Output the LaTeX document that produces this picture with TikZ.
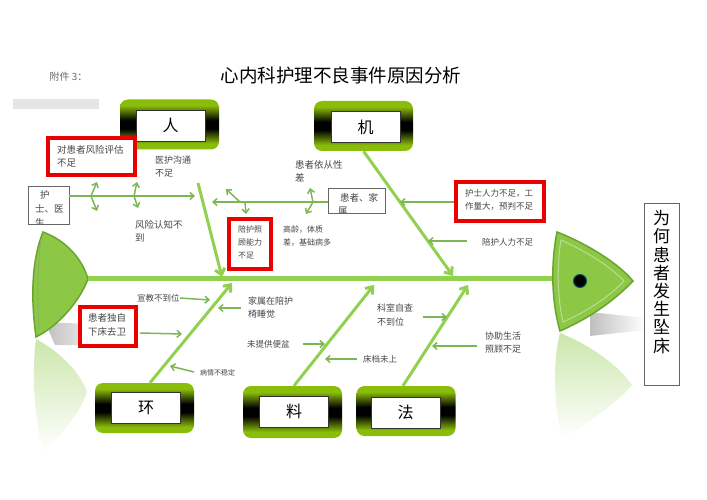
\documentclass[tikz,border=0pt]{standalone}
\usepackage{fontspec}
\setmainfont{Noto Sans CJK SC}
\usetikzlibrary{arrows.meta}
\definecolor{bone}{RGB}{146,208,80}
\definecolor{subg}{RGB}{125,182,85}
\definecolor{fish}{RGB}{140,200,70}
\definecolor{fishd}{RGB}{105,165,45}
\definecolor{catg}{RGB}{138,188,10}
\definecolor{redb}{RGB}{235,0,0}
\definecolor{txt}{RGB}{70,70,70}
\pgfdeclareverticalshading{catshade}{100bp}{color(0bp)=(catg); color(31bp)=(catg); color(46bp)=(black); color(54bp)=(black); color(69bp)=(catg); color(100bp)=(catg)}
\newcommand{\fs}[2]{\fontsize{#1}{#2}\selectfont}
\begin{document}
\begin{tikzpicture}[x=1pt,y=-1pt,
  catouter/.style={rounded corners=8pt, shading=catshade, minimum width=99pt, minimum height=50pt, inner sep=0pt},
  catinner/.style={draw=black!80, line width=0.8pt, fill=white, minimum width=69pt, minimum height=31pt, inner sep=0pt, font=\fs{16}{18}},
  bonearrow/.style={draw=bone, line width=3pt, -{Straight Barb[length=6pt,width=10pt]}},
  subarrow/.style={draw=subg, line width=1.5pt, -{Straight Barb[length=4pt,width=7pt]}},
  redbox/.style={draw=redb, line width=4pt, fill=white, inner sep=0pt},
  lbl/.style={text=txt, inner sep=0pt, anchor=north west, align=left},
  plainbox/.style={draw=black!60, line width=0.8pt, fill=white, inner sep=0pt}
]
\useasboundingbox (0,0) rectangle (707,500);

% header
\node[anchor=west, text=black!60, font=\fs{10}{12}] (fj) at (46,77) {附件 3：};
\node[font=\fs{18.5}{20}] (title) at (341,75) {心内科护理不良事件原因分析};
\fill[black!10] (13,99) rectangle (99,109);

% shadows and reflections
\shade[left color=black!25, right color=white] (45,322) -- (110,325) -- (110,345) -- (55,345) -- cycle;
\shade[top color=fish!45, bottom color=white] (36,339) .. controls (60,352) and (80,372) .. (87,392) .. controls (80,412) and (65,432) .. (43,452) .. controls (33,410) and (32,370) .. cycle;
\shade[left color=black!25, right color=white] (590,312) -- (645,318) -- (645,330) -- (590,336) -- cycle;
\shade[top color=fish!45, bottom color=white] (560,333) .. controls (590,345) and (618,365) .. (632,385) .. controls (615,405) and (590,420) .. (562,440) .. controls (553,400) and (553,360) .. cycle;

% tail
\filldraw[fill=fish, draw=fishd, line width=1.5pt] (43,232) .. controls (65,240) and (82,258) .. (88,279) .. controls (80,300) and (60,325) .. (36,337) .. controls (31,300) and (31,262) .. cycle;
\draw[fishd!80, line width=1pt] (41,240) .. controls (37,270) and (37,300) .. (39,330);
\coordinate (tail) at (88,278);
% head
\coordinate (headl) at (556,278);
\draw[bone, line width=5pt] (tail) -- (headl);
\filldraw[fill=fish, draw=fishd, line width=1.5pt] (557,232) .. controls (590,245) and (620,265) .. (633,281) .. controls (615,300) and (590,318) .. (560,331) .. controls (551,300) and (551,262) .. cycle;
\draw[fish!60!white, line width=1pt] (561,240) .. controls (588,252) and (612,268) .. (624,281) .. controls (610,296) and (588,311) .. (563,322) .. controls (557,296) and (557,264) .. cycle;
\filldraw[fill=black, draw=teal!70!black, line width=1pt] (580,281) circle (6.5pt);

% result box
\node[plainbox, minimum width=35pt, minimum height=182pt] (res) at (661.5,294) {};
\node[align=center, font=\fs{17}{18.2}] (restxt) at (661.5,282) {为\\何\\患\\者\\发\\生\\坠\\床};

% category boxes
\node[catouter] (ren) at (169.5,124.5) {};
\node[catinner] (renin) at (170.5,125.5) {人};
\node[catouter] (ji) at (363.5,126) {};
\node[catinner] (jiin) at (365.5,127) {机};
\node[catouter] (huan) at (144.5,408) {};
\node[catinner] (huanin) at (146,407.5) {环};
\node[catouter, minimum height=52pt] (liao) at (292.5,412) {};
\node[catinner] (liaoin) at (294,411.5) {料};
\node[catouter] (fa) at (406,411) {};
\node[catinner] (fain) at (405.5,412.5) {法};

% main bones
\coordinate (rs) at (198,183);
\coordinate (rt) at (222,277);
\coordinate (jt) at (453,276);
\coordinate (ht) at (232,283);
\coordinate (lt) at (374,285);
\coordinate (ft) at (468,285);
\draw[bonearrow] (rs) -- (rt);
\draw[bonearrow] (ji.south) -- (jt);
\draw[bonearrow] ([xshift=5.5pt]huan.north) -- (ht);
\draw[bonearrow] ([xshift=1.5pt]liao.north) -- (lt);
\draw[bonearrow] ([xshift=-3pt]fa.north) -- (ft);

% --- 人 branch
\node[plainbox, minimum width=41pt, minimum height=38pt] (hushi) at (48.5,205) {};
\begin{scope}
\clip (28.5,186.5) rectangle (68.5,223.5);
\node[lbl, font=\fs{9.5}{14}] (hushitxt) at (35,190.5) {\hspace{5pt}护\\士、医\\生};
\end{scope}
\coordinate (h1) at (195,196);
\draw[subarrow] (hushi.east |- h1) -- (h1);
\coordinate (f1) at (91,196);
\coordinate (f1u) at (97,182);
\coordinate (f1d) at (97,211);
\coordinate (f2) at (134,196);
\coordinate (f2u) at (137,182);
\coordinate (f2d) at (138,208);
\draw[subarrow] (f1) -- (f1u);
\draw[subarrow] (f1) -- (f1d);
\draw[subarrow] (f2) -- (f2u);
\draw[subarrow] (f2) -- (f2d);

\node[redbox, minimum width=87pt, minimum height=37pt] (rb1) at (91.5,156.5) {};
\node[lbl, font=\fs{9.5}{13}] (t1) at (57,145) {对患者风险评估\\不足};
\node[lbl, font=\fs{9}{13}] (t2) at (155,155.5) {医护沟通\\不足};
\node[lbl, font=\fs{9.5}{13}] (t3) at (135,220.5) {风险认知不\\到};

% --- 机 branch
\node[plainbox, minimum width=57pt, minimum height=25pt] (hz) at (356.5,200.5) {};
\begin{scope}
\clip (328.5,188.5) rectangle (384.5,212.5);
\node[lbl, font=\fs{9.5}{13}] (hztxt) at (338,193.5) {\hspace{2pt}患者、家\\属};
\end{scope}
\coordinate (h2) at (212,202);
\draw[subarrow] (hz.west |- h2) -- (h2);
\coordinate (g1) at (240,202);
\coordinate (g1u) at (226,189);
\coordinate (g1b) at (245,202);
\coordinate (g1d) at (246,214);
\coordinate (g2) at (313,202);
\coordinate (g2u) at (310,188);
\coordinate (g2d) at (306,214);
\draw[subarrow] (g1) -- (g1u);
\draw[subarrow] (g1b) -- (g1d);
\draw[subarrow] (g2) -- (g2u);
\draw[subarrow] (g2) -- (g2d);
\node[lbl, font=\fs{9.5}{13}] (t4) at (295,160.5) {患者依从性\\差};
\node[redbox, minimum width=42pt, minimum height=50pt] (rb2) at (250,243.5) {};
\node[lbl, font=\fs{8}{13}] (t5) at (238,226) {陪护照\\顾能力\\不足};
\node[lbl, font=\fs{8}{12.5}] (t6) at (283,226) {高龄，体质\\差，基础病多};

\node[redbox, minimum width=88pt, minimum height=39pt] (rb3) at (500,201.5) {};
\node[lbl, font=\fs{8.5}{13}] (t7) at (465,189.5) {护士人力不足，工\\作量大，预判不足};
\coordinate (a3) at (400,202);
\draw[subarrow] (rb3.west |- a3) -- (a3);
\node[lbl, anchor=west, font=\fs{8.5}{10}] (t8) at (482,242) {陪护人力不足};
\coordinate (a4s) at (467,241);
\coordinate (a4) at (428,241);
\draw[subarrow] (a4s) -- (a4);

% --- 环 branch
\node[lbl, anchor=west, font=\fs{8.5}{10}] (t9) at (137,298) {宣教不到位};
\coordinate (a5) at (210,300);
\draw[subarrow] (t9.east) -- (a5);
\node[lbl, font=\fs{9}{13}] (t10) at (248,296.5) {家属在陪护\\椅睡觉};
\coordinate (a6s) at (241,308);
\coordinate (a6) at (218,308);
\draw[subarrow] (a6s) -- (a6);
\node[redbox, minimum width=56pt, minimum height=39pt] (rb4) at (108,326.5) {};
\node[lbl, font=\fs{9.5}{14}] (t11) at (88,313.5) {患者独自\\下床去卫};
\coordinate (a7s) at (140,333);
\coordinate (a7) at (182,334);
\draw[subarrow] (a7s) -- (a7);
\node[lbl, anchor=west, font=\fs{7}{9}] (t12) at (200,373) {病情不稳定};
\coordinate (a8s) at (194,372);
\coordinate (a8) at (170,366);
\draw[subarrow] (a8s) -- (a8);

% --- 料 branch
\node[lbl, anchor=west, font=\fs{8.5}{10}] (t13) at (247,344) {未提供便盆};
\coordinate (a9s) at (303,344);
\coordinate (a9) at (325,344);
\draw[subarrow] (a9s) -- (a9);
\node[lbl, anchor=west, font=\fs{8.5}{10}] (t14) at (363,359) {床档未上};
\coordinate (a10s) at (357,359);
\coordinate (a10) at (325,359);
\draw[subarrow] (a10s) -- (a10);

% --- 法 branch
\node[lbl, font=\fs{9}{14}] (t15) at (377,303.5) {科室自查\\不到位};
\coordinate (a11s) at (423,317);
\coordinate (a11) at (447,317);
\draw[subarrow] (a11s) -- (a11);
\node[lbl, font=\fs{9}{13}] (t16) at (485,331.5) {协助生活\\照顾不足};
\coordinate (a12s) at (477,346);
\coordinate (a12) at (432,346);
\draw[subarrow] (a12s) -- (a12);
\end{tikzpicture}
\end{document}
